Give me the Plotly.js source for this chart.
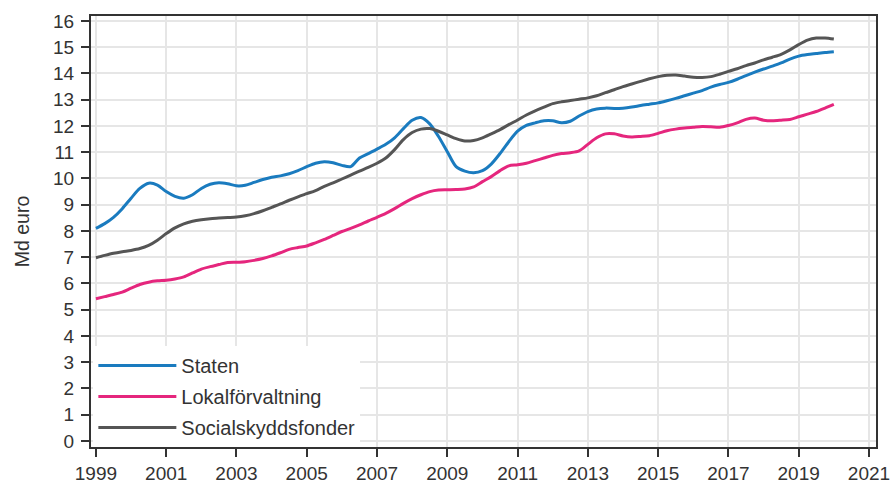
<!DOCTYPE html>
<html>
<head>
<meta charset="utf-8">
<script src="https://cdn.plot.ly/plotly-3.0.1.min.js"></script>
<style>html,body{margin:0;padding:0;background:#fff;}#chart{width:893px;height:488px;}</style>
</head>
<body>
<div id="chart"></div>
<script>
// Quarterly data, 1999Q1 .. 2020Q1 (Md euro)
var startYear = 1999;
var seriesNames = ["Staten", "Lokalförvaltning", "Socialskyddsfonder"];
var staten = [
  8.10, 8.28, 8.52, 8.85,
  9.25, 9.62, 9.82, 9.75,
  9.50, 9.32, 9.25, 9.38,
  9.62, 9.78, 9.84, 9.80,
  9.72, 9.74, 9.85, 9.96,
  10.05, 10.10, 10.18, 10.30,
  10.45, 10.58, 10.64, 10.60,
  10.50, 10.45, 10.78, 10.95,
  11.12, 11.30, 11.55, 11.90,
  12.22, 12.32, 12.08, 11.60,
  11.02, 10.45, 10.28, 10.22,
  10.30, 10.55, 10.95, 11.40,
  11.80, 12.02, 12.12, 12.20,
  12.20, 12.12, 12.18, 12.38,
  12.55, 12.65, 12.68, 12.67,
  12.68, 12.72, 12.78, 12.83,
  12.88, 12.96, 13.05, 13.15,
  13.25, 13.35, 13.48, 13.58,
  13.66, 13.78, 13.92, 14.05,
  14.17, 14.28, 14.40, 14.55,
  14.66, 14.72, 14.76, 14.80,
  14.83
];
var lokal = [
  5.42, 5.50, 5.58, 5.67,
  5.82, 5.96, 6.05, 6.10,
  6.12, 6.17, 6.25, 6.40,
  6.55, 6.64, 6.72, 6.80,
  6.81, 6.83, 6.88, 6.95,
  7.05, 7.17, 7.30, 7.37,
  7.43, 7.55, 7.68, 7.83,
  7.98, 8.10, 8.23, 8.38,
  8.52, 8.67, 8.85, 9.05,
  9.23, 9.38, 9.50, 9.56,
  9.57, 9.58, 9.60, 9.68,
  9.88, 10.07, 10.30, 10.48,
  10.52, 10.58, 10.68, 10.78,
  10.88, 10.95, 10.98, 11.05,
  11.30, 11.55, 11.70, 11.70,
  11.62, 11.58, 11.60, 11.63,
  11.72, 11.82, 11.88, 11.92,
  11.95, 11.98, 11.97, 11.95,
  12.02, 12.12, 12.25, 12.30,
  12.22, 12.20, 12.22, 12.25,
  12.35, 12.45, 12.55, 12.68,
  12.82
];
var social = [
  6.98, 7.07, 7.15, 7.21,
  7.26, 7.33, 7.45, 7.65,
  7.90, 8.12, 8.27, 8.37,
  8.43, 8.47, 8.49, 8.51,
  8.53, 8.58, 8.66, 8.77,
  8.90, 9.03, 9.17, 9.30,
  9.42, 9.54, 9.70, 9.83,
  9.98, 10.13, 10.28, 10.42,
  10.58, 10.78, 11.10, 11.48,
  11.75, 11.88, 11.90, 11.80,
  11.66, 11.52, 11.43, 11.45,
  11.55, 11.70, 11.86, 12.05,
  12.23, 12.42, 12.58, 12.72,
  12.85, 12.92, 12.97, 13.02,
  13.07, 13.15, 13.27, 13.38,
  13.50, 13.60, 13.70, 13.80,
  13.88, 13.93, 13.94, 13.90,
  13.86, 13.85, 13.88, 13.97,
  14.08, 14.18, 14.30, 14.40,
  14.52, 14.62, 14.73, 14.90,
  15.10, 15.27, 15.35, 15.35,
  15.31
];
var xTickVals = [1999, 2001, 2003, 2005, 2007, 2009, 2011, 2013, 2015, 2017, 2019, 2021];
var yTickVals = [0,1,2,3,4,5,6,7,8,9,10,11,12,13,14,15,16];
var yTitle = "Md euro";

var t = [];
for (var i = 0; i < staten.length; i++) t.push(startYear + i / 4);

var colors = ["#1a7bbf", "#e5267d", "#555555"];
var allSeries = [staten, lokal, social];
var traces = allSeries.map(function (s, k) {
  return {
    x: t, y: s, type: "scatter", mode: "lines", name: seriesNames[k],
    legendgroup: "g" + k,
    line: {color: colors[k], width: 3, shape: "spline", smoothing: 0.8},
    hoverinfo: "skip"
  };
});

var fontFam = "'Liberation Sans', Arial, sans-serif";
var layout = {
  width: 893, height: 488,
  margin: {l: 91, r: 17, t: 16, b: 41},
  paper_bgcolor: "#fff", plot_bgcolor: "#fff",
  font: {family: fontFam, size: 19, color: "#333"},
  showlegend: true,
  legend: {
    x: 0.003, y: 0.0, xanchor: "left", yanchor: "bottom",
    bgcolor: "#fff", borderwidth: 0,
    font: {family: fontFam, size: 20, color: "#333"},
    itemwidth: 78, tracegroupgap: 2, traceorder: "grouped"
  },
  xaxis: {
    range: [1998.86, 2021.2], tickmode: "array", tickvals: xTickVals,
    ticktext: xTickVals.map(String),
    showgrid: true, gridcolor: "#e6e6e6", gridwidth: 2,
    zeroline: false, showline: true, linecolor: "#333", linewidth: 2, mirror: true,
    ticks: "outside", ticklen: 8, tickwidth: 2, tickcolor: "#333",
    tickfont: {family: fontFam, size: 19, color: "#333"}
  },
  yaxis: {
    range: [-0.23, 16.19], tickmode: "array", tickvals: yTickVals,
    showgrid: true, gridcolor: "#e6e6e6", gridwidth: 2,
    zeroline: false, showline: true, linecolor: "#333", linewidth: 2, mirror: true,
    ticks: "outside", ticklen: 8, tickwidth: 2, tickcolor: "#333",
    ticklabelstandoff: 3,
    tickfont: {family: fontFam, size: 19, color: "#333"},
    title: {text: yTitle, font: {family: fontFam, size: 19.5, color: "#333"}, standoff: 18}
  }
};
Plotly.newPlot("chart", traces, layout, {staticPlot: true, displayModeBar: false});
</script>
</body>
</html>
